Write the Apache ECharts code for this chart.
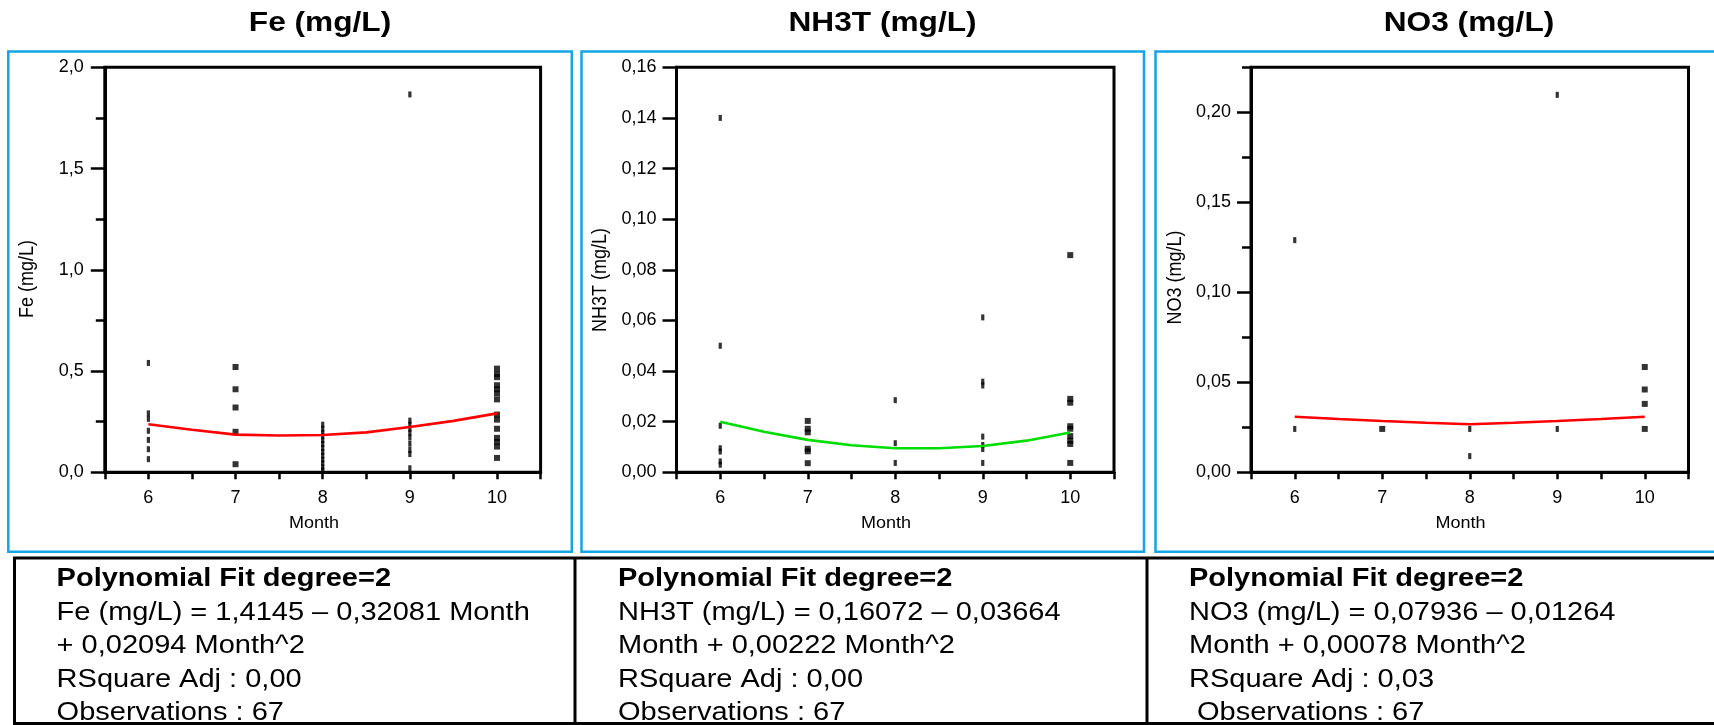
<!DOCTYPE html>
<html>
<head>
<meta charset="utf-8">
<script src="https://cdn.jsdelivr.net/npm/echarts@6/dist/echarts.min.js"></script>
<style>
  html, body { margin: 0; padding: 0; background: #ffffff; }
  #chart { width: 1714px; height: 725px; }
</style>
</head>
<body>
<div id="chart"></div>
<script>
// ---------------- DATA ----------------
const panelTitles = ['Fe (mg/L)', 'NH3T (mg/L)', 'NO3 (mg/L)'];
const xAxisName = 'Month';

// Fe (mg/L) observations: month / value
const feMonths = [6, 6, 6, 6, 6, 6, 6,
                  7, 7, 7, 7, 7,
                  8, 8, 8, 8, 8, 8, 8, 8, 8, 8, 8, 8, 8,
                  9, 9, 9, 9, 9, 9, 9, 9, 9, 9,
                  10, 10, 10, 10, 10, 10, 10, 10, 10, 10, 10, 10, 10, 10];
const feValues = [0.54, 0.291, 0.264, 0.205, 0.16, 0.114, 0.065,
                  0.52, 0.41, 0.32, 0.2, 0.04,
                  0.235, 0.215, 0.195, 0.178, 0.158, 0.14, 0.12, 0.1, 0.082, 0.062, 0.045, 0.025, 0.011,
                  1.866, 0.255, 0.235, 0.215, 0.195, 0.172, 0.141, 0.11, 0.09, 0.02,
                  0.512, 0.485, 0.47, 0.43, 0.41, 0.39, 0.36, 0.285, 0.26, 0.215, 0.17, 0.15, 0.127, 0.071];

// NH3T (mg/L) observations
const nh3tMonths = [6, 6, 6, 6, 6, 6, 6,
                    7, 7, 7, 7, 7, 7,
                    8, 8, 8,
                    9, 9, 9, 9, 9, 9, 9,
                    10, 10, 10, 10, 10, 10, 10, 10, 10];
const nh3tValues = [0.14, 0.05, 0.0184, 0.0095, 0.0082, 0.0043, 0.003,
                    0.0203, 0.0172, 0.0158, 0.0093, 0.0083, 0.0036,
                    0.0285, 0.0115, 0.0037,
                    0.0612, 0.0358, 0.0343, 0.0141, 0.0108, 0.0092, 0.0037,
                    0.0858, 0.029, 0.0275, 0.0182, 0.0172, 0.0143, 0.0125, 0.0112, 0.0037];

// NO3 (mg/L) observations
const no3Months = [6, 6, 7, 8, 8, 9, 9, 10, 10, 10, 10];
const no3Values = [0.129, 0.0241, 0.0241, 0.0241, 0.009, 0.2097, 0.0241, 0.0585, 0.046, 0.038, 0.0241];

// Polynomial fit curves as drawn
const fitMonths = [6, 6.5, 7, 7.5, 8, 8.5, 9, 9.5, 10];
const feFit   = [0.237, 0.21, 0.186, 0.182, 0.184, 0.197, 0.224, 0.254, 0.291];
const nh3tFit = [0.0200, 0.0160, 0.0128, 0.0107, 0.0095, 0.0095, 0.0104, 0.0125, 0.0157];
const no3Fit  = [0.0309, 0.0296, 0.0285, 0.0275, 0.0267, 0.0275, 0.0285, 0.0296, 0.0309];

// Axis tick labels
const xTickLabels = ['6', '7', '8', '9', '10'];
const feTicks   = [0, 0.5, 1.0, 1.5, 2.0];
const nh3tTicks = [0, 0.02, 0.04, 0.06, 0.08, 0.10, 0.12, 0.14, 0.16];
const no3Ticks  = [0, 0.05, 0.10, 0.15, 0.20];

// Fit report texts
const feReport   = ['Polynomial Fit degree=2', 'Fe (mg/L) = 1,4145 \u2013 0,32081 Month', '+ 0,02094 Month^2', 'RSquare Adj : 0,00', 'Observations : 67'];
const nh3tReport = ['Polynomial Fit degree=2', 'NH3T (mg/L) = 0,16072 \u2013 0,03664', 'Month + 0,00222 Month^2', 'RSquare Adj : 0,00', 'Observations : 67'];
const no3Report  = ['Polynomial Fit degree=2', 'NO3 (mg/L) = 0,07936 \u2013 0,01264', 'Month + 0,00078 Month^2', 'RSquare Adj : 0,03', ' Observations : 67'];

// ---------------- LAYOUT / STYLE ----------------
const FONT = "'Liberation Sans', Arial, Helvetica, sans-serif";
const BLUE = '#15a4e4';
const grids = [
  { left: 104.8, top: 67.3, width: 435.8, height: 405 },
  { left: 676.5, top: 67.3, width: 437.5, height: 405 },
  { left: 1251,  top: 67.3, width: 437.5, height: 405 }
];
const yCfg = [
  { max: 2.0,   ticks: feTicks,   minorStep: 0.25,  dec: 1 },
  { max: 0.16,  ticks: nh3tTicks, minorStep: null,  dec: 2 },
  { max: 0.225, ticks: no3Ticks,  minorStep: 0.025, dec: 2 }
];
const obs = [[feMonths, feValues], [nh3tMonths, nh3tValues], [no3Months, no3Values]];
const fits = [feFit, nh3tFit, no3Fit];
const fitColors = ['#ff0000', '#00dd00', '#ff0000'];
const reports = [feReport, nh3tReport, no3Report];
const reportX = [56.6, 618, 1189];
const reportY = [579.5, 613, 646.5, 680, 713.5];
const titleX = [320, 882.5, 1469];
const yNamePos = [[28, 279], [601, 280], [1176, 277.6]];
const monthX = [314, 886, 1460.6];
const frames = [[8.3, 571.8], [581.5, 1144], [1155.5, 1725]];

const xAxes = grids.map((g, i) => ({
  type: 'value', gridIndex: i, min: 5.5, max: 10.5, interval: 0.5,
  axisLine: { show: true, onZero: false, lineStyle: { color: '#000', width: 3 } },
  axisTick: { show: true, length: 7, lineStyle: { color: '#000', width: 2.5 } },
  axisLabel: {
    show: true, margin: 16.5, color: '#000', fontFamily: FONT, fontSize: 18,
    formatter: v => { const k = xTickLabels.indexOf(String(v)); return k >= 0 ? xTickLabels[k] : ''; }
  },
  splitLine: { show: false }
}));

const yAxes = [];
yCfg.forEach((c, i) => {
  yAxes.push({
    type: 'value', gridIndex: i, position: 'left', min: 0, max: c.max,
    interval: c.ticks[1] - c.ticks[0],
    axisLine: { show: true, onZero: false, lineStyle: { color: '#000', width: 3 } },
    axisTick: { show: true, length: 14, lineStyle: { color: '#000', width: 2.5 }, customValues: c.ticks },
    axisLabel: {
      show: true, margin: i === 0 ? 21 : 20, color: '#000', fontFamily: FONT, fontSize: 18,
      customValues: c.ticks,
      formatter: v => (v > c.ticks[c.ticks.length - 1] + 1e-9) ? '' : v.toFixed(c.dec).replace('.', ',')
    },
    splitLine: { show: false }
  });
});
yCfg.forEach((c, i) => {
  if (!c.minorStep) return;
  yAxes.push({
    type: 'value', gridIndex: i, position: 'left', offset: 0, min: 0, max: c.max, interval: c.minorStep,
    axisLine: { show: false },
    axisTick: { show: true, length: 9, lineStyle: { color: '#000', width: 2.5 } },
    axisLabel: { show: false },
    splitLine: { show: false }
  });
});

const series = [];
obs.forEach((o, i) => {
  series.push({
    type: 'scatter', xAxisIndex: i, yAxisIndex: i,
    data: o[0].map((m, k) => [m, o[1][k]]),
    symbol: 'rect',
    symbolSize: val => (val[0] === 7 || val[0] === 10) ? [6, 6] : [3.2, 6],
    itemStyle: { color: '#000' },
    z: 2, silent: true
  });
  series.push({
    type: 'line', xAxisIndex: i, yAxisIndex: i,
    data: fitMonths.map((m, k) => [m, fits[i][k]]),
    symbol: 'none', smooth: false,
    lineStyle: { color: fitColors[i], width: 2.6 },
    z: 3, silent: true
  });
});

const graphics = [];
// blue panel frames
frames.forEach(f => {
  graphics.push({ type: 'rect', shape: { x: f[0], y: 51.5, width: f[1] - f[0], height: 500.2 },
    style: { fill: 'none', stroke: BLUE, lineWidth: 2.5 }, silent: true });
});
// report box
graphics.push({ type: 'rect', shape: { x: 14.5, y: 558, width: 1720, height: 165.5 },
  style: { fill: 'none', stroke: '#000', lineWidth: 3 }, silent: true });
[575, 1147].forEach(x => {
  graphics.push({ type: 'line', shape: { x1: x, y1: 558, x2: x, y2: 725 },
    style: { stroke: '#000', lineWidth: 3 }, silent: true });
});
// titles, axis names, reports
panelTitles.forEach((t, i) => {
  graphics.push({ type: 'text', x: titleX[i], y: 23, scaleX: 1.13, silent: true,
    style: { text: t, font: "bold 28px " + FONT, fill: '#000', align: 'center', verticalAlign: 'middle', textAlign: 'center', textVerticalAlign: 'middle' } });
  graphics.push({ type: 'text', x: yNamePos[i][0], y: yNamePos[i][1], rotation: Math.PI / 2, scaleY: 1.1, silent: true,
    style: { text: t, font: "18px " + FONT, fill: '#000', align: 'center', verticalAlign: 'middle', textAlign: 'center', textVerticalAlign: 'middle' } });
  graphics.push({ type: 'text', x: monthX[i], y: 523, scaleX: 1.06, silent: true,
    style: { text: xAxisName, font: "17px " + FONT, fill: '#000', align: 'center', verticalAlign: 'middle', textAlign: 'center', textVerticalAlign: 'middle' } });
  reports[i].forEach((line, k) => {
    graphics.push({ type: 'text', x: reportX[i], y: reportY[k], scaleX: 1.16, silent: true,
      style: { text: line, font: (k === 0 ? 'bold ' : '') + "25px " + FONT, fill: '#000',
        align: 'left', verticalAlign: 'middle', textAlign: 'left', textVerticalAlign: 'middle' } });
  });
});

const chart = echarts.init(document.getElementById('chart'), null, { renderer: 'canvas' });
chart.setOption({
  animation: false,
  backgroundColor: '#ffffff',
  grid: grids.map(g => Object.assign({ show: true, borderColor: '#000', borderWidth: 3, backgroundColor: 'transparent', containLabel: false, outerBoundsMode: 'none' }, g)),
  xAxis: xAxes,
  yAxis: yAxes,
  series: series,
  graphic: { elements: graphics }
});
</script>
</body>
</html>
